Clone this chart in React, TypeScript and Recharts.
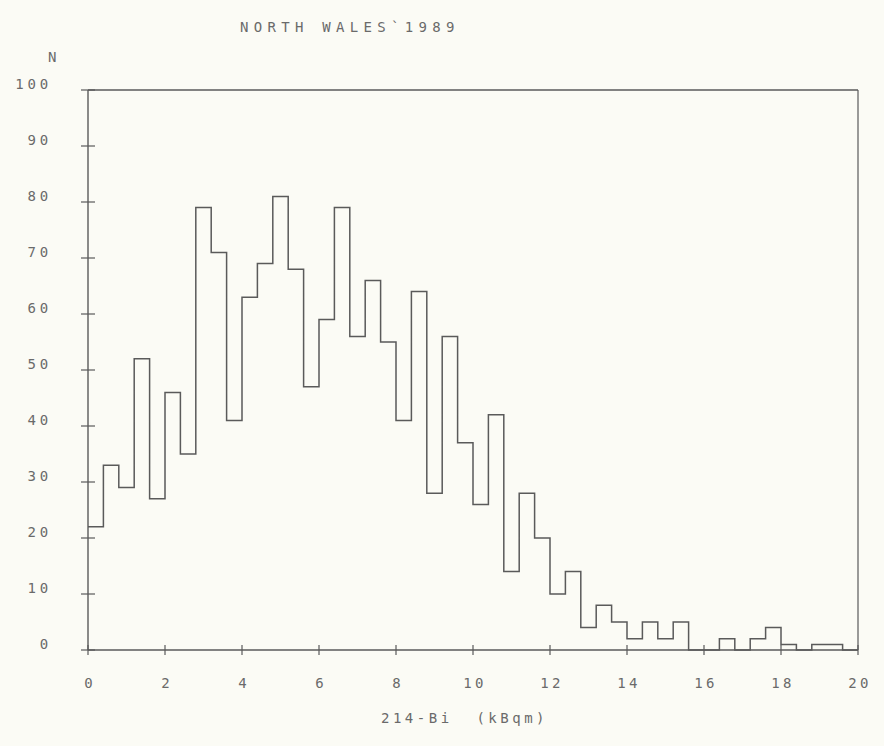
import { LineChart, Line, XAxis, YAxis, ReferenceLine } from "recharts"

// histogram of 214-Bi, bins of 0.4 kBqm from 0 to 20
const BIN_WIDTH = 0.4
const counts = [
  22, 33, 29, 52, 27, 46, 35, 79, 71, 41,
  63, 69, 81, 68, 47, 59, 79, 56, 66, 55,
  41, 64, 28, 56, 37, 26, 42, 14, 28, 20,
  10, 14, 4, 8, 5, 2, 5, 2, 5, 0,
  0, 2, 0, 2, 4, 1, 0, 1, 1, 0
]
const xTicks = [0, 2, 4, 6, 8, 10, 12, 14, 16, 18, 20]
const yTicks = [0, 10, 20, 30, 40, 50, 60, 70, 80, 90, 100]

const title = "NORTH WALES`1989"
const yTitle = "N"
const xTitle = "214-Bi  (kBqm)"

const data = [
  ...counts.map((n, i) => ({ x: +(i * BIN_WIDTH).toFixed(1), n })),
  { x: 20, n: counts[counts.length - 1] }
]

const INK = "#5a5a5a"
const TEXT = "#6a6a6a"
const FONT = "'DejaVu Sans Mono', monospace"

const YTick = (props: any) => {
  const { x, y, payload } = props
  return (
    <g>
      <line x1={x - 7} x2={x + 7} y1={y} y2={y} stroke={INK} strokeWidth={1.2} />
      <text x={x - 36} y={y - 1} textAnchor="end" fontFamily={FONT} fontSize={14}
        letterSpacing={3.8} fill={TEXT}>
        {payload.value}
      </text>
    </g>
  )
}

const RTick = (props: any) => {
  const { x, y } = props
  return <line x1={x - 2} x2={x + 4} y1={y} y2={y} stroke={INK} strokeWidth={1} />
}

const XTick = (props: any) => {
  const { x, y, payload } = props
  return (
    <g>
      <line x1={x} x2={x} y1={y - 5} y2={y + 5} stroke={INK} strokeWidth={1.2} />
      <text x={x + 2} y={y + 38} textAnchor="middle" fontFamily={FONT} fontSize={14}
        letterSpacing={3.2} fill={TEXT}>
        {payload.value}
      </text>
    </g>
  )
}

const label = (left: number, top: number, text: string, spacing: number) => (
  <div style={{
    position: "absolute", left, top, fontFamily: FONT, fontSize: 14,
    letterSpacing: spacing, color: TEXT, whiteSpace: "pre", lineHeight: "16px"
  }}>
    {text}
  </div>
)

export default function App() {
  return (
    <div style={{ position: "fixed", left: 0, top: 0, width: 884, height: 746, background: "#fbfbf5" }}>
      {label(240, 19, title, 5.3)}
      {label(48, 49, yTitle, 0)}
      {label(381, 710, xTitle, 3.5)}
      <LineChart width={884} height={746} data={data}
        margin={{ top: 90, right: 0, bottom: 66, left: 28 }}>
        <XAxis dataKey="x" type="number" domain={[0, 20]} ticks={xTicks} interval={0}
          height={30} tickSize={0} tickMargin={0} tick={<XTick />}
          axisLine={{ stroke: INK, strokeWidth: 1.4 }} />
        <YAxis type="number" domain={[0, 100]} ticks={yTicks} interval={0} width={60}
          tickSize={0} tickMargin={0} tick={<YTick />}
          axisLine={{ stroke: INK, strokeWidth: 1.4 }} />
        <YAxis yAxisId="r" orientation="right" type="number" domain={[0, 100]} ticks={yTicks}
          interval={0} width={26} tickSize={0} tickMargin={0} tick={<RTick />}
          axisLine={{ stroke: INK, strokeWidth: 1.2 }} />
        <ReferenceLine y={100} stroke={INK} strokeWidth={1.3} />
        <Line dataKey="n" type="stepAfter" stroke={INK} strokeWidth={1.5} dot={false}
          isAnimationActive={false} />
      </LineChart>
    </div>
  )
}
